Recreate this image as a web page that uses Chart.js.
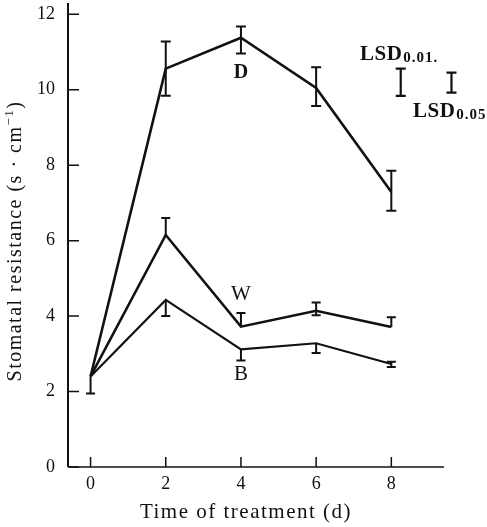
<!DOCTYPE html>
<html>
<head>
<meta charset="utf-8">
<script src="https://cdn.jsdelivr.net/npm/chart.js@4/dist/chart.umd.min.js"></script>
<style>
    html, body { margin: 0; padding: 0; background: #fff; }
    #wrap { width: 487px; height: 527px; }
</style>
</head>
<body>
<div id="wrap"><canvas id="chart"></canvas></div>
<script>
// Days of treatment
const days = [0, 2, 4, 6, 8];

// Stomatal resistance (s/cm) per treatment
const dryValues = [2.4, 10.56, 11.38, 10.05, 7.29];    // D
const wetValues = [2.4, 6.15, 3.72, 4.14, 3.71];       // W
const baseValues = [2.4, 4.43, 3.12, 3.28, 2.73];      // B

// Error bars (lower / upper extent)
const dryErrLow = [0, 0.72, 0.42, 0.48, 0.5];
const dryErrHigh = [0, 0.72, 0.3, 0.55, 0.56];
const wetErrLow = [0, 0, 0, 0.12, 0];
const wetErrHigh = [0, 0.45, 0.36, 0.22, 0.26];
const baseErrLow = [0.45, 0.43, 0.3, 0.26, 0.08];
const baseErrHigh = [0, 0, 0, 0, 0.06];

// LSD bars: position on x, centre and half length
const lsdNames = ['0.01.', '0.05'];
const lsdX = [8.25, 9.6];
const lsdCentre = [10.2, 10.19];
const lsdHalf = [0.36, 0.265];

// Tick labels
const xTicks = [0, 2, 4, 6, 8];
const yTicks = [0, 2, 4, 6, 8, 10, 12];

const SERIF = "'Liberation Serif', 'DejaVu Serif', serif";

function pts(vals) {
    return days.map((d, i) => ({ x: d, y: vals[i] }));
}

// ==========================================================
// DRAWING EXTRAS (error bars, labels, inward ticks)
// ==========================================================
const extrasPlugin = {
    id: 'extras',
    afterDatasetsDraw(chart) {
        const ctx = chart.ctx;
        const xs = chart.scales.x;
        const ys = chart.scales.y;
        const area = chart.chartArea;

        ctx.save();
        ctx.strokeStyle = '#111';
        ctx.lineCap = 'butt';

        // error bars
        const sets = [
            [dryValues, dryErrLow, dryErrHigh, 2, 5],
            [wetValues, wetErrLow, wetErrHigh, 2, 4.5],
            [baseValues, baseErrLow, baseErrHigh, 2, 4.5]
        ];
        sets.forEach(([vals, lo, hi, lw, cap]) => {
            days.forEach((d, i) => {
                if (!lo[i] && !hi[i]) return;
                const px = xs.getPixelForValue(d);
                const top = ys.getPixelForValue(vals[i] + hi[i]);
                const bot = ys.getPixelForValue(vals[i] - lo[i]);
                ctx.lineWidth = lw;
                ctx.beginPath();
                ctx.moveTo(px, top); ctx.lineTo(px, bot);
                if (hi[i]) { ctx.moveTo(px - cap, top); ctx.lineTo(px + cap, top); }
                if (lo[i]) { ctx.moveTo(px - cap, bot); ctx.lineTo(px + cap, bot); }
                ctx.stroke();
            });
        });

        // LSD bars
        lsdX.forEach((lx, i) => {
            const px = xs.getPixelForValue(lx);
            const top = ys.getPixelForValue(lsdCentre[i] + lsdHalf[i]);
            const bot = ys.getPixelForValue(lsdCentre[i] - lsdHalf[i]);
            ctx.lineWidth = 2.2;
            ctx.beginPath();
            ctx.moveTo(px, top); ctx.lineTo(px, bot);
            ctx.moveTo(px - 5, top); ctx.lineTo(px + 5, top);
            ctx.moveTo(px - 5, bot); ctx.lineTo(px + 5, bot);
            ctx.stroke();
        });

        // LSD labels
        ctx.fillStyle = '#111';
        ctx.textBaseline = 'alphabetic';
        ctx.textAlign = 'left';
        const lsdText = (x, y, sub) => {
            ctx.font = `bold 21px ${SERIF}`;
            ctx.letterSpacing = '0.5px';
            ctx.fillText('LSD', x, y);
            const w = ctx.measureText('LSD').width;
            ctx.font = `bold 15px ${SERIF}`;
            ctx.letterSpacing = '1px';
            ctx.fillText(sub, x + w + 1, y + 2);
            ctx.letterSpacing = '0px';
        };
        lsdText(360, 60, lsdNames[0]);
        lsdText(413, 117, lsdNames[1]);

        // curve labels
        ctx.textAlign = 'center';
        ctx.textBaseline = 'middle';
        ctx.font = `bold 20px ${SERIF}`;
        ctx.fillText('D', xs.getPixelForValue(4), ys.getPixelForValue(10.45));
        ctx.font = `21px ${SERIF}`;
        ctx.fillText('W', xs.getPixelForValue(4), ys.getPixelForValue(4.56));
        ctx.fillText('B', xs.getPixelForValue(4), ys.getPixelForValue(2.44));

        // axis lines and inward ticks
        ctx.lineWidth = 2;
        ctx.beginPath();
        ctx.moveTo(area.left, area.top);
        ctx.lineTo(area.left, area.bottom);
        ctx.stroke();
        ctx.lineWidth = 1.5;
        ctx.beginPath();
        ctx.moveTo(area.left, area.bottom);
        ctx.lineTo(xs.getPixelForValue(9.4), area.bottom);
        ctx.stroke();

        ctx.lineWidth = 1.5;
        ctx.beginPath();
        yTicks.forEach(v => {
            const py = ys.getPixelForValue(v);
            ctx.moveTo(area.left, py); ctx.lineTo(area.left + 11, py);
        });
        xTicks.forEach(v => {
            const px = xs.getPixelForValue(v);
            ctx.moveTo(px, area.bottom); ctx.lineTo(px, area.bottom - 10);
        });
        ctx.stroke();

        // axis titles (letter spaced like the print)
        ctx.font = `21px ${SERIF}`;
        ctx.letterSpacing = '1.5px';
        ctx.textAlign = 'center';
        ctx.textBaseline = 'middle';
        ctx.fillText('Time of treatment (d)', 246, 512);

        ctx.translate(16, 241);
        ctx.rotate(-Math.PI / 2);
        ctx.font = `20px ${SERIF}`;
        const main = 'Stomatal resistance (s · cm';
        const sup = '\u22121';
        ctx.textAlign = 'left';
        const wMain = ctx.measureText(main).width;
        ctx.font = `13px ${SERIF}`;
        const wSup = ctx.measureText(sup).width;
        ctx.font = `20px ${SERIF}`;
        const wClose = ctx.measureText(')').width;
        const start = -(wMain + wSup + wClose) / 2;
        ctx.fillText(main, start, 0);
        ctx.font = `13px ${SERIF}`;
        ctx.fillText(sup, start + wMain, -6);
        ctx.font = `20px ${SERIF}`;
        ctx.fillText(')', start + wMain + wSup, 0);
        ctx.restore();
    }
};

// ==========================================================
// CHART
// ==========================================================
const lineStyle = (w) => ({
    borderColor: '#111',
    borderWidth: w,
    pointRadius: 0,
    tension: 0,
    fill: false
});

new Chart(document.getElementById('chart'), {
    type: 'line',
    data: {
        datasets: [
            { label: 'D', data: pts(dryValues), ...lineStyle(2.6) },
            { label: 'W', data: pts(wetValues), ...lineStyle(2.6) },
            { label: 'B', data: pts(baseValues), ...lineStyle(2.2) }
        ]
    },
    options: {
        responsive: true,
        maintainAspectRatio: false,
        animation: false,
        layout: { padding: { top: 3, right: 28, left: 0, bottom: 0 } },
        plugins: {
            legend: { display: false },
            tooltip: { enabled: false }
        },
        scales: {
            x: {
                type: 'linear',
                min: -0.6,
                max: 9.8,
                grid: { display: false, drawTicks: false },
                border: { display: false },
                afterBuildTicks: (s) => { s.ticks = xTicks.map(v => ({ value: v })); },
                afterFit: (s) => { s.height = 60; s.paddingLeft = 0; s.paddingRight = 0; },
                ticks: {
                    color: '#111',
                    padding: 6,
                    font: { family: SERIF, size: 18 }
                }
            },
            y: {
                min: 0,
                max: 12.3,
                grid: { display: false, drawTicks: false },
                border: { display: false },
                afterBuildTicks: (s) => { s.ticks = yTicks.map(v => ({ value: v })); },
                afterFit: (s) => { s.width = 68; s.paddingTop = 0; s.paddingBottom = 0; },
                ticks: {
                    color: '#111',
                    padding: 13,
                    font: { family: SERIF, size: 18 }
                }
            }
        }
    },
    plugins: [extrasPlugin]
});
</script>
</body>
</html>
